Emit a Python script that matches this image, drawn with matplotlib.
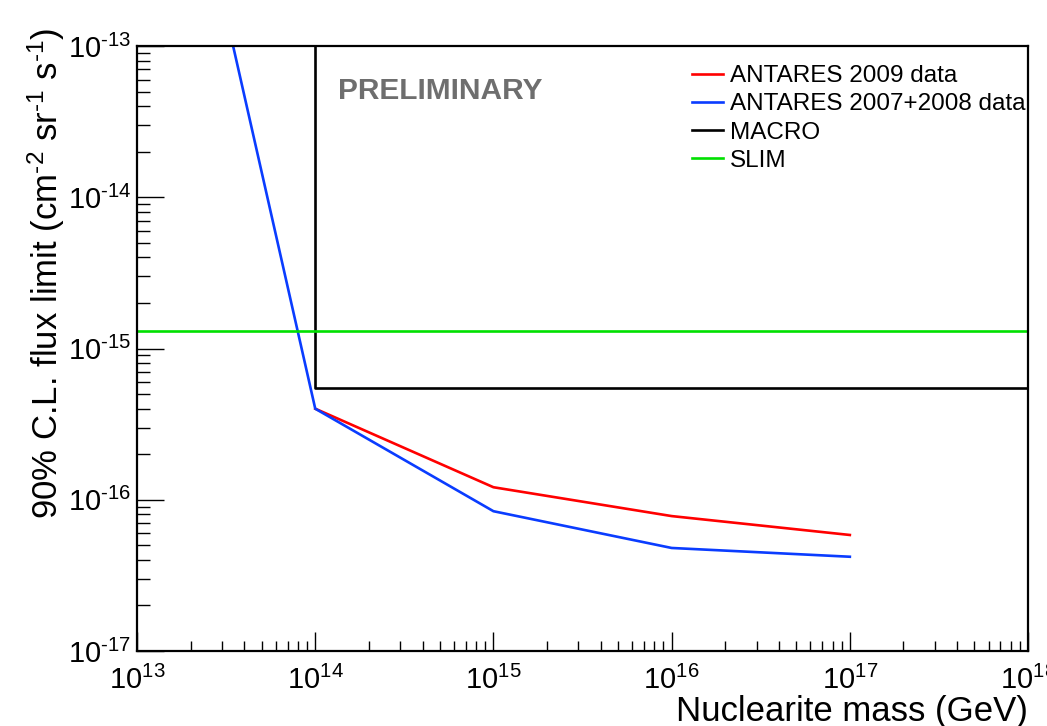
import matplotlib
matplotlib.use("Agg")
from matplotlib import pyplot as plt
from matplotlib.ticker import LogLocator, NullFormatter, FuncFormatter
import numpy as np

plt.rcParams["font.family"] = ["Liberation Sans", "DejaVu Sans"]
plt.rcParams["mathtext.fontset"] = "custom"
plt.rcParams["mathtext.rm"] = "Liberation Sans"
plt.rcParams["mathtext.it"] = "Liberation Sans"
plt.rcParams["mathtext.bf"] = "Liberation Sans:bold"

# nuclearite mass (GeV) and 90% C.L. flux limits
MASS_2009 = [1e14, 1e15, 1e16, 1e17]
FLUX_2009 = [4.0e-16, 1.21e-16, 7.8e-17, 5.85e-17]

MASS_0708 = [3e13, 1e14, 1e15, 1e16, 1e17]
FLUX_0708 = [2.1e-13, 4.0e-16, 8.4e-17, 4.8e-17, 4.2e-17]

MASS_MACRO = [1e14, 1e14, 1e18]
FLUX_MACRO = [2e-13, 5.45e-16, 5.45e-16]

MASS_SLIM = [1e13, 1e18]
FLUX_SLIM = [1.3e-15, 1.3e-15]


def root_log_label(value, pos):
    # ROOT style: short hyphen instead of a long minus sign
    exp = int(round(np.log10(value)))
    if exp < 0:
        return r"$10^{\text{-}%d}$" % (-exp)
    return r"$10^{%d}$" % exp


fig = plt.figure(figsize=(10.47, 7.26), dpi=100)
ax = fig.add_axes([0.1309, 0.1033, 0.8510, 0.8333])

ax.plot(MASS_2009, FLUX_2009, color="#ff0000", lw=1.9, label="ANTARES 2009 data")
ax.plot(MASS_0708, FLUX_0708, color="#0a3cff", lw=1.9, label="ANTARES 2007+2008 data")
ax.plot(MASS_MACRO, FLUX_MACRO, color="black", lw=1.9, label="MACRO")
ax.plot(MASS_SLIM, FLUX_SLIM, color="#00e000", lw=1.9, label="SLIM")

ax.set_xscale("log")
ax.set_yscale("log")
ax.set_xlim(1e13, 1e18)
ax.set_ylim(1e-17, 1e-13)

for spine in ax.spines.values():
    spine.set_linewidth(1.6)

ax.xaxis.set_major_locator(LogLocator(base=10, numticks=10))
ax.yaxis.set_major_locator(LogLocator(base=10, numticks=10))
ax.xaxis.set_minor_locator(LogLocator(base=10, subs=range(2, 10), numticks=20))
ax.yaxis.set_minor_locator(LogLocator(base=10, subs=range(2, 10), numticks=20))
ax.xaxis.set_major_formatter(FuncFormatter(root_log_label))
ax.yaxis.set_major_formatter(FuncFormatter(root_log_label))
ax.xaxis.set_minor_formatter(NullFormatter())
ax.yaxis.set_minor_formatter(NullFormatter())

ax.tick_params(axis="both", which="both", direction="in", top=False, right=False, width=1.0)
ax.tick_params(axis="x", which="major", length=13.7, labelsize=21, pad=11)
ax.tick_params(axis="x", which="minor", length=7.2)
ax.tick_params(axis="y", which="major", length=19.4, labelsize=21, pad=4)
ax.tick_params(axis="y", which="minor", length=9.4)

ax.set_xlabel("Nuclearite mass (GeV)", fontsize=25, loc="right")
ax.xaxis.set_label_coords(1.0, -0.072)
ax.set_ylabel(r"90% C.L. flux limit (cm$^{\text{-}2}$ sr$^{\text{-}1}$ s$^{\text{-}1}$)", fontsize=25, loc="top")
ax.yaxis.set_label_coords(-0.079, 1.03)

ax.text(0.2256, 0.925, "PRELIMINARY", transform=ax.transAxes, fontsize=21.5,
        fontweight="bold", color="#6e6e6e", va="center", ha="left")

ax.legend(loc="upper left", bbox_to_anchor=(0.623, 0.968), frameon=False,
          fontsize=17.5, handlelength=1.25, handletextpad=0.3, labelspacing=0.25,
          borderpad=0, borderaxespad=0)

fig.savefig("out.png", dpi=100)
